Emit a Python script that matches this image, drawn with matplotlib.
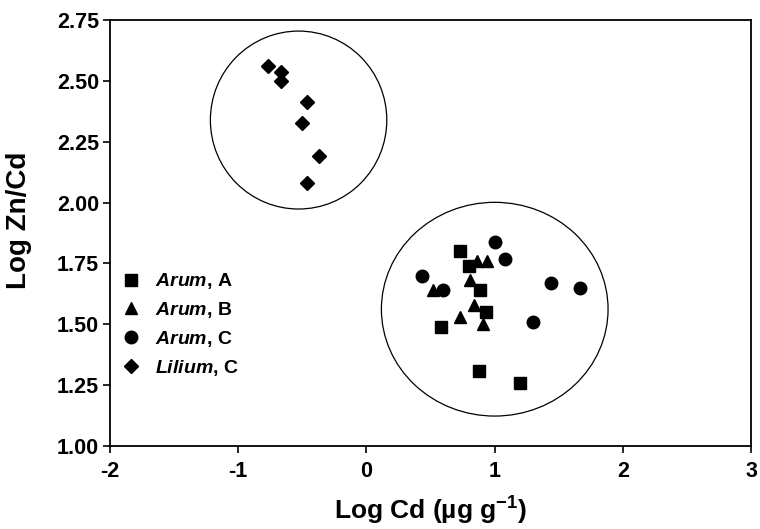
import numpy as np
import matplotlib
matplotlib.use('Agg')
import matplotlib.pyplot as plt
from matplotlib.patches import Ellipse

plt.rcParams['font.family'] = ['Liberation Sans', 'DejaVu Sans']
plt.rcParams['font.weight'] = 'bold'
plt.rcParams['mathtext.fontset'] = 'custom'
plt.rcParams['mathtext.rm'] = 'Liberation Sans:bold'
plt.rcParams['mathtext.bf'] = 'Liberation Sans:bold'
plt.rcParams['mathtext.it'] = 'Liberation Sans:bold:italic'
plt.rcParams['mathtext.bfit'] = 'Liberation Sans:bold:italic'

# Arum, A
arum_a_x = [0.73, 0.80, 0.89, 0.93, 0.58, 0.88, 1.20]
arum_a_y = [1.80, 1.74, 1.64, 1.55, 1.49, 1.31, 1.26]
# Arum, B
arum_b_x = [0.86, 0.94, 0.81, 0.52, 0.84, 0.73, 0.91]
arum_b_y = [1.76, 1.76, 1.68, 1.64, 1.58, 1.53, 1.50]
# Arum, C
arum_c_x = [1.00, 1.08, 0.43, 0.60, 1.44, 1.67, 1.30]
arum_c_y = [1.84, 1.77, 1.70, 1.64, 1.67, 1.65, 1.51]
# Lilium, C
lilium_x = [-0.77, -0.67, -0.67, -0.46, -0.50, -0.37, -0.46]
lilium_y = [2.56, 2.537, 2.50, 2.415, 2.325, 2.19, 2.08]

xticks = [-2, -1, 0, 1, 2, 3]
yticks = [1.00, 1.25, 1.50, 1.75, 2.00, 2.25, 2.50, 2.75]

fig = plt.figure(figsize=(7.6, 5.29), dpi=100)
ax = fig.add_axes([110/760, 1 - 446/529, 641/760, 426/529])

ax.plot(arum_a_x, arum_a_y, 's', color='black', markersize=8.5, linestyle='none', label=r'$\mathbfit{Arum}$, A')
ax.plot(arum_b_x, arum_b_y, '^', color='black', markersize=9, linestyle='none', label=r'$\mathbfit{Arum}$, B')
ax.plot(arum_c_x, arum_c_y, 'o', color='black', markersize=9, linestyle='none', label=r'$\mathbfit{Arum}$, C')
ax.plot(lilium_x, lilium_y, 'D', color='black', markersize=7, linestyle='none', label=r'$\mathbfit{Lilium}$, C')

# group outlines
ax.add_patch(Ellipse((-0.529, 2.339), 1.376, 0.731, fill=False, edgecolor='black', linewidth=0.9))
ax.add_patch(Ellipse((1.001, 1.562), 1.768, 0.878, fill=False, edgecolor='black', linewidth=0.9))

ax.set_xlim(-2, 3)
ax.set_ylim(1.0, 2.75)
ax.set_xticks(xticks)
ax.set_xticklabels([str(t) for t in xticks])
ax.set_yticks(yticks)
ax.set_yticklabels(['%.2f' % t for t in yticks])
ax.tick_params(axis='both', direction='out', length=5, width=1.2, labelsize=15.5)
ax.tick_params(axis='x', pad=6)
ax.tick_params(axis='y', pad=3)
for s in ax.spines.values():
    s.set_linewidth(1.3)

ax.set_xlabel('Log Cd (µg g$^{-1}$)', fontsize=19, fontweight='bold', labelpad=9)
ax.set_ylabel('Log Zn/Cd', fontsize=20, fontweight='bold')
ax.yaxis.set_label_coords(-0.122, 0.53)

leg = ax.legend(loc='upper left', bbox_to_anchor=(0.018, 0.41), frameon=False,
                fontsize=14, handlelength=1.0, handletextpad=0.74, labelspacing=0.45,
                borderpad=0, borderaxespad=0)

fig.savefig('out.png', dpi=100)
